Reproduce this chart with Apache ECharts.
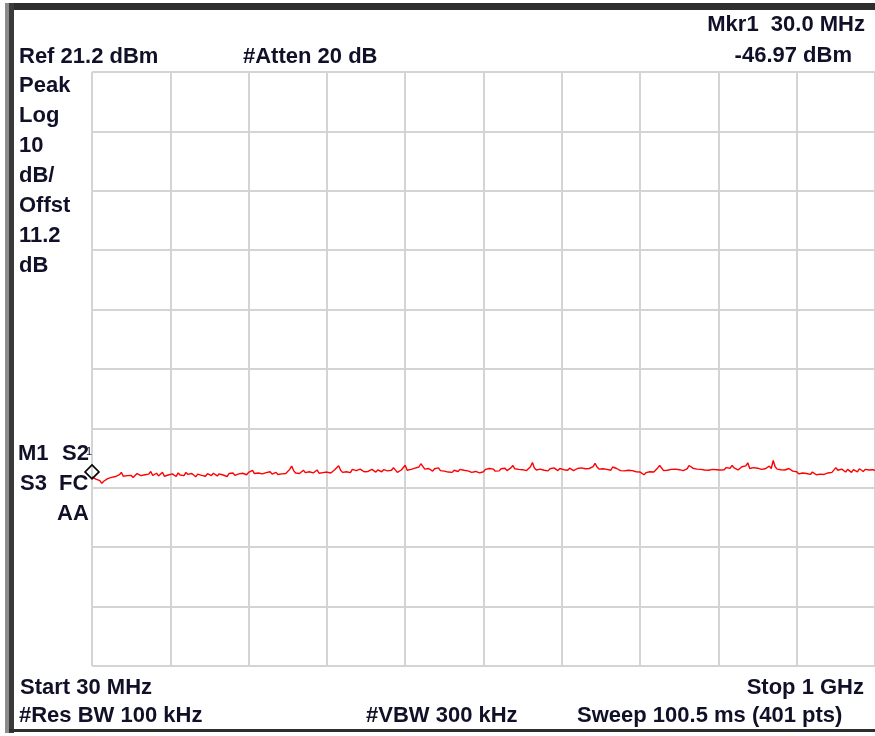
<!DOCTYPE html>
<html><head><meta charset="utf-8">
<script src="https://cdn.jsdelivr.net/npm/echarts@6/dist/echarts.min.js"></script>
<style>html,body{margin:0;padding:0;background:#fff;overflow:hidden}#c{width:875px;height:736px}</style>
</head><body><div id="c"></div><script>
// Sweep settings
const startMHz = 30, stopMHz = 1000, sweepPoints = 401;
const refLevelDbm = 21.2, dbPerDiv = 10, yDivisions = 10, xDivisions = 10;
const markerFreqMHz = 30.0, markerDbm = -46.97;

// Trace values (dBm), 401 sweep points
const traceDbm = [
-46.97,-47.10,-47.35,-47.20,-47.60,-48.05,-47.70,-47.40,-47.25,-47.30,-47.05,-47.20,-46.90,-47.10,-46.60,-46.20,-46.85,-47.00,-46.75,-46.95,
-46.70,-47.05,-46.85,-46.40,-46.10,-46.75,-46.95,-46.60,-46.85,-46.50,-46.05,-46.70,-46.90,-46.35,-46.80,-46.55,-46.20,-46.85,-47.00,-46.65,
-46.80,-46.45,-46.60,-46.90,-46.30,-46.65,-46.45,-46.75,-46.20,-46.55,-46.85,-46.40,-46.60,-46.95,-46.50,-46.30,-46.70,-46.55,-46.85,-46.40,
-46.60,-46.75,-46.35,-46.50,-46.80,-46.45,-46.25,-46.65,-46.55,-46.90,-46.40,-46.60,-46.30,-46.70,-46.50,-46.45,-46.75,-46.35,-46.55,-46.60,
-46.20,-46.35,-45.85,-46.40,-46.55,-46.30,-46.15,-46.45,-46.60,-46.25,-46.40,-46.10,-46.50,-46.35,-46.20,-46.55,-46.30,-46.45,-46.15,-46.40,
-46.10,-45.70,-45.15,-45.90,-46.30,-46.05,-46.40,-46.15,-45.85,-46.25,-46.45,-46.10,-45.95,-46.30,-46.20,-45.80,-46.35,-46.05,-46.25,-46.00,
-46.15,-45.90,-46.30,-46.05,-45.75,-45.45,-45.10,-45.85,-46.20,-45.95,-46.10,-45.80,-46.25,-45.70,-46.00,-45.90,-46.15,-45.65,-45.95,-46.10,
-45.85,-46.05,-46.30,-45.70,-45.95,-46.15,-45.80,-45.90,-46.10,-45.75,-45.60,-45.95,-46.05,-45.85,-45.40,-45.70,-46.20,-46.00,-45.80,-45.95,
-45.00,-45.85,-46.10,-45.70,-45.95,-45.50,-45.75,-45.30,-44.75,-45.20,-45.65,-45.95,-45.55,-45.80,-46.00,-45.60,-45.85,-45.45,-45.90,-45.70,
-46.00,-45.75,-46.15,-45.90,-46.20,-45.85,-45.60,-46.05,-45.70,-45.40,-45.85,-46.10,-45.95,-45.75,-46.20,-46.35,-46.05,-45.80,-46.30,-46.45,
-46.10,-45.70,-45.90,-45.55,-45.85,-45.65,-46.00,-45.75,-45.95,-45.60,-45.80,-45.50,-45.90,-45.70,-45.45,-45.05,-45.60,-45.85,-45.70,-45.95,
-45.75,-45.55,-45.90,-45.60,-45.25,-44.55,-45.45,-45.80,-45.95,-45.65,-45.50,-45.85,-45.70,-45.95,-45.60,-45.80,-45.45,-45.70,-45.90,-45.55,
-45.40,-45.75,-45.60,-45.85,-45.50,-45.65,-45.90,-45.70,-45.55,-45.80,-45.45,-45.70,-45.60,-45.85,-45.55,-45.75,-45.25,-44.70,-45.30,-45.65,
-45.80,-45.60,-45.90,-45.70,-45.50,-45.85,-45.30,-45.05,-45.55,-45.75,-45.90,-45.65,-45.95,-46.15,-45.85,-46.05,-45.90,-46.20,-46.10,-45.95,
-46.15,-46.35,-46.60,-46.25,-46.40,-46.10,-45.95,-46.15,-45.80,-45.45,-45.05,-45.35,-45.90,-46.05,-45.85,-46.10,-45.70,-45.95,-45.65,-45.85,
-45.75,-45.55,-45.90,-45.70,-45.60,-45.05,-44.85,-45.50,-45.80,-45.65,-45.95,-45.70,-45.50,-45.80,-46.05,-45.85,-45.60,-45.70,-45.95,-45.75,
-45.60,-45.80,-45.55,-45.75,-45.40,-45.70,-45.50,-45.05,-45.45,-45.30,-45.80,-45.60,-45.25,-45.50,-45.10,-44.60,-45.55,-45.80,-45.40,-45.65,
-45.50,-45.35,-45.70,-45.45,-45.60,-45.40,-45.15,-45.55,-44.20,-45.25,-45.65,-45.55,-45.75,-45.60,-45.80,-45.70,-45.55,-45.85,-46.00,-45.90,
-46.10,-46.45,-46.70,-46.30,-46.05,-46.40,-46.25,-46.55,-46.15,-46.35,-46.60,-46.40,-46.50,-46.70,-46.55,-46.45,-46.30,-46.40,-46.20,-45.90,
-45.40,-45.85,-46.00,-45.65,-45.85,-46.15,-45.70,-45.95,-46.20,-45.75,-45.90,-46.10,-45.60,-45.85,-46.05,-45.70,-45.95,-45.80,-46.00,-45.75,
-45.90
];

// Annotation texts
const topLeftText = 'Ref 21.2 dBm';
const attenText = '#Atten 20 dB';
const mkrFreqText = 'Mkr1  30.0 MHz';
const mkrValText = '-46.97 dBm';
const sideLabels = ['Peak', 'Log', '10', 'dB/', 'Offst', '11.2', 'dB'];
const startText = 'Start 30 MHz', stopText = 'Stop 1 GHz';
const rbwText = '#Res BW 100 kHz', vbwText = '#VBW 300 kHz', sweepText = 'Sweep 100.5 ms (401 pts)';

const bottomDbm = refLevelDbm - dbPerDiv * yDivisions;
const step = (stopMHz - startMHz) / (sweepPoints - 1);
const seriesData = traceDbm.map((v, i) => [startMHz + i * step, v]);

const FONT = 'bold 22px "Liberation Sans", Arial, sans-serif';
const TXT = '#101028';
function t(text, x, y, align) {
  return { type: 'text', x: x, y: y, silent: true, z: 10,
    style: { text: text, font: FONT, fill: TXT, align: align || 'left', verticalAlign: 'middle' } };
}

const graphics = [
  { type: 'rect', shape: { x: 5, y: 3, width: 880, height: 7 }, style: { fill: '#2e2e2e' }, z: 5 },
  { type: 'rect', shape: { x: 5, y: 3, width: 4, height: 730 }, style: { fill: '#8c8c8c' }, z: 5 },
  { type: 'rect', shape: { x: 9, y: 3, width: 5, height: 730 }, style: { fill: '#3a3a3a' }, z: 5 },
  { type: 'rect', shape: { x: 9, y: 729, width: 880, height: 3 }, style: { fill: '#2e2e2e' }, z: 5 },
  t(topLeftText, 19, 57), t(attenText, 243, 57),
  t(mkrFreqText, 865, 25, 'right'), t(mkrValText, 852, 56, 'right'),
  t(startText, 20, 688), t(stopText, 864, 688, 'right'),
  t(rbwText, 19, 716), t(vbwText, 366, 716), t(sweepText, 577, 716),
  t('M1', 18, 454), t('S2', 62, 454),
  t('S3', 20, 484), t('FC', 59, 484), t('AA', 57, 514),
  { type: 'text', x: 86, y: 452, z: 10, style: { text: '1', font: '11px "Liberation Sans", Arial', fill: TXT, verticalAlign: 'middle' } }
];
sideLabels.forEach((s, i) => graphics.push(t(s, 19, 86 + i * 30)));

const chart = echarts.init(document.getElementById('c'), null, { renderer: 'canvas' });
chart.setOption({
  animation: false,
  backgroundColor: '#ffffff',
  grid: { left: 92, top: 72, width: 786, height: 594, show: false },
  xAxis: [
    { type: 'value', min: startMHz, max: stopMHz, show: false },
    { type: 'value', min: 0, max: xDivisions, interval: 1, position: 'bottom',
      axisLine: { show: false }, axisTick: { show: false }, axisLabel: { show: false },
      splitLine: { show: true, showMinLine: true, showMaxLine: true, lineStyle: { color: '#d4d4d4', width: 2 } } }
  ],
  yAxis: [
    { type: 'value', min: bottomDbm, max: refLevelDbm, show: false },
    { type: 'value', min: 0, max: yDivisions, interval: 1,
      axisLine: { show: false }, axisTick: { show: false }, axisLabel: { show: false },
      splitLine: { show: true, showMinLine: true, showMaxLine: true, lineStyle: { color: '#d4d4d4', width: 2 } } }
  ],
  series: [
    { type: 'line', xAxisIndex: 1, yAxisIndex: 1, data: [], silent: true },
    { type: 'line', xAxisIndex: 0, yAxisIndex: 0, data: seriesData, showSymbol: false, z: 3,
      lineStyle: { color: '#ff0000', width: 1.4 }, itemStyle: { color: '#ff0000' },
      markPoint: { symbol: 'diamond', symbolSize: [14, 14], symbolOffset: [0, -5], silent: true,
        itemStyle: { color: 'rgba(255,255,255,0)', borderColor: '#000000', borderWidth: 1.6 },
        label: { show: false },
        data: [{ coord: [markerFreqMHz, markerDbm] }] } }
  ],
  graphic: graphics
});
</script></body></html>
